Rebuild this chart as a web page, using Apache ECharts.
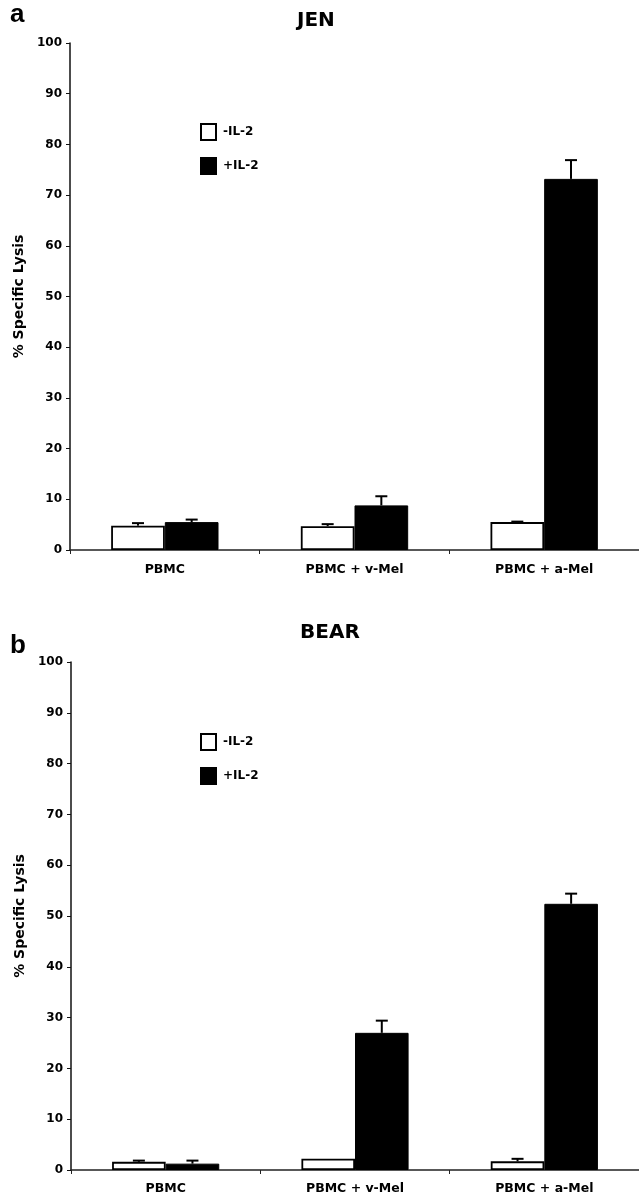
<!DOCTYPE html>
<html>
<head>
<meta charset="utf-8">
<script src="https://cdn.jsdelivr.net/npm/echarts@6/dist/echarts.min.js"></script>
<style>
html,body{margin:0;padding:0;background:#fff;}
#chart{width:639px;height:1199px;}
</style>
</head>
<body>
<div id="chart"></div>
<script>
// ---- data ----
const categories = ['PBMC', 'PBMC + v-Mel', 'PBMC + a-Mel'];
const seriesNames = ['-IL-2', '+IL-2'];
const jenMinus = [4.8, 4.7, 5.5];
const jenMinusErr = [0.5, 0.4, 0.1];
const jenPlus = [5.5, 8.8, 73.2];
const jenPlusErr = [0.5, 1.8, 3.7];
const bearMinus = [1.6, 2.2, 1.7];
const bearMinusErr = [0.25, 0, 0.5];
const bearPlus = [1.25, 27.0, 52.4];
const bearPlusErr = [0.6, 2.4, 2.0];
const yMin = 0, yMax = 100, yStep = 10;

const BAR_FRAC = 0.283;
const FONT = 'DejaVu Sans';

function errData(vals, errs, side) {
  return vals.map((v, i) => [i, v, errs[i], side]);
}
function renderErr(params, api) {
  const cat = api.value(0), v = api.value(1), e = api.value(2), side = api.value(3);
  if (!e) return null;
  const band = api.size([1, 0])[0];
  const off = side * band * BAR_FRAC / 2;
  const base = api.coord([cat, v]);
  const top = api.coord([cat, v + e]);
  const x = base[0] + off;
  const half = 6;
  return {
    type: 'group',
    children: [
      {type: 'line', shape: {x1: x, y1: base[1], x2: x, y2: top[1]}, style: {stroke: '#000', lineWidth: 2}},
      {type: 'line', shape: {x1: x - half, y1: top[1], x2: x + half, y2: top[1]}, style: {stroke: '#000', lineWidth: 2}}
    ]
  };
}

function xAxisDef(gi, margin) {
  return {
    type: 'category', gridIndex: gi, data: categories,
    axisLine: {lineStyle: {color: '#222', width: 1.5}},
    axisTick: {show: true, length: 4, lineStyle: {color: '#222', width: 1}},
    axisLabel: {color: '#000', fontFamily: FONT, fontWeight: 'bold', fontSize: 12.5, margin: margin}
  };
}
function yAxisDef(gi) {
  return {
    type: 'value', gridIndex: gi, min: yMin, max: yMax, interval: yStep,
    name: '% Specific Lysis', nameLocation: 'middle', nameGap: 42,
    nameTextStyle: {color: '#000', fontFamily: FONT, fontWeight: 'bold', fontSize: 14},
    axisLine: {show: true, lineStyle: {color: '#111', width: 1.5}},
    axisTick: {show: true, length: 4, lineStyle: {color: '#111', width: 1}},
    splitLine: {show: false},
    axisLabel: {color: '#000', fontFamily: FONT, fontWeight: 'bold', fontSize: 12, margin: 8}
  };
}
function barPair(gi, minus, plus) {
  return [
    {name: seriesNames[0], type: 'bar', xAxisIndex: gi, yAxisIndex: gi, data: minus,
     barWidth: (BAR_FRAC * 100) + '%', barGap: '0%',
     itemStyle: {color: '#fff', borderColor: '#000', borderWidth: 1.8}},
    {name: seriesNames[1], type: 'bar', xAxisIndex: gi, yAxisIndex: gi, data: plus,
     barWidth: (BAR_FRAC * 100) + '%', barGap: '0%',
     itemStyle: {color: '#000', borderColor: '#000', borderWidth: 1}}
  ];
}
function errSeries(gi, vals, errs, side) {
  return {type: 'custom', xAxisIndex: gi, yAxisIndex: gi, renderItem: renderErr,
    data: errData(vals, errs, side), encode: {x: 0, y: 1}, z: 5, silent: true};
}
function legendDef(top) {
  return {
    data: seriesNames, orient: 'vertical', left: 200, top: top, padding: 0,
    icon: 'rect', itemWidth: 15, itemHeight: 16, itemGap: 16, selectedMode: false,
    textStyle: {color: '#000', fontFamily: FONT, fontWeight: 'bold', fontSize: 12, padding: [0, 0, 0, 2]}
  };
}

const chart = echarts.init(document.getElementById('chart'), null, {renderer: 'canvas'});
chart.setOption({
  backgroundColor: '#fff',
  animation: false,
  title: [
    {text: 'JEN', left: 297, top: 11, padding: 0, textStyle: {fontFamily: FONT, fontWeight: 'bold', fontSize: 20, color: '#000'}},
    {text: 'BEAR', left: 300, top: 623, padding: 0, textStyle: {fontFamily: FONT, fontWeight: 'bold', fontSize: 20, color: '#000'}},
    {text: 'a', left: 10, top: 2, padding: 0, textStyle: {fontFamily: 'Liberation Sans', fontWeight: 'bold', fontSize: 26, color: '#000'}},
    {text: 'b', left: 10, top: 633, padding: 0, textStyle: {fontFamily: 'Liberation Sans', fontWeight: 'bold', fontSize: 26, color: '#000'}}
  ],
  legend: [legendDef(123), legendDef(733)],
  grid: [
    {left: 70, top: 43, width: 571.5, height: 507},
    {left: 71, top: 662, width: 573, height: 508}
  ],
  xAxis: [xAxisDef(0, 13), xAxisDef(1, 12)],
  yAxis: [yAxisDef(0), yAxisDef(1)],
  series: [
    ...barPair(0, jenMinus, jenPlus),
    ...barPair(1, bearMinus, bearPlus),
    errSeries(0, jenMinus, jenMinusErr, -1),
    errSeries(0, jenPlus, jenPlusErr, 1),
    errSeries(1, bearMinus, bearMinusErr, -1),
    errSeries(1, bearPlus, bearPlusErr, 1)
  ]
});
</script>
</body>
</html>
